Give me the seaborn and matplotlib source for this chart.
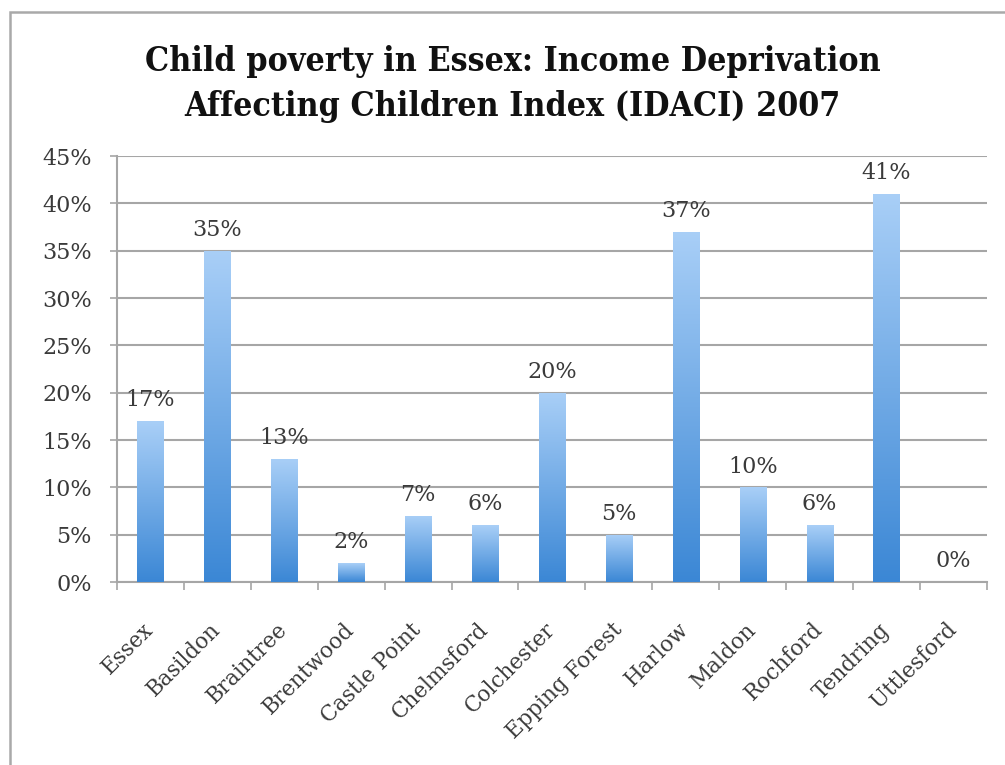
import numpy as np
import pandas as pd
import matplotlib
matplotlib.use("Agg")
import matplotlib.pyplot as plt
from matplotlib.colors import LinearSegmentedColormap
from matplotlib.patches import Rectangle
import seaborn as sns

# IDACI 2007 share of children in income-deprived households, by district
districts = ["Essex", "Basildon", "Braintree", "Brentwood", "Castle Point",
             "Chelmsford", "Colchester", "Epping Forest", "Harlow", "Maldon",
             "Rochford", "Tendring", "Uttlesford"]
idaci_pct = [17, 35, 13, 2, 7, 6, 20, 5, 37, 10, 6, 41, 0]
y_ticks = [0, 5, 10, 15, 20, 25, 30, 35, 40, 45]

title_lines = ["Child poverty in Essex: Income Deprivation",
               "Affecting Children Index (IDACI) 2007"]

GRID = "#a6a6a6"
TEXT = "#3a3a3a"

sns.set_theme(style="white")
plt.rcParams["font.family"] = ["DejaVu Serif", "DejaVu Sans"]

fig = plt.figure(figsize=(10.05, 7.65), dpi=100)
ax = fig.add_axes([0.1164, 0.2392, 0.8656, 0.5568])

df = pd.DataFrame({"district": districts, "pct": idaci_pct})
sns.barplot(data=df, x="district", y="pct", color="#6fa8e6", width=0.39,
            errorbar=None, ax=ax, zorder=3)

# vertical gradient fill inside each bar (dark at the base, light at the top)
cmap = LinearSegmentedColormap.from_list("bar_fill", ["#3b87d5", "#a9cff7"])
grad = np.linspace(0, 1, 256).reshape(-1, 1)
for patch in list(ax.patches):
    x0, w, h = patch.get_x(), patch.get_width(), patch.get_height()
    patch.set_facecolor("none")
    patch.set_edgecolor("none")
    if h <= 0:
        continue
    im = ax.imshow(grad, cmap=cmap, origin="lower", aspect="auto",
                   extent=[x0, x0 + w, 0, h], zorder=3,
                   interpolation="bilinear")
    im.set_clip_path(patch)

# value labels above bars
for i, v in enumerate(idaci_pct):
    ax.annotate(f"{v}%", xy=(i, v), xytext=(0, 7), textcoords="offset points",
                ha="center", va="bottom", fontsize=16, color=TEXT, zorder=4)

n = len(districts)
ax.set_xlim(-0.5, n - 0.5)
ax.set_ylim(0, 45)
ax.set_aspect("auto")

# y axis
ax.set_yticks(y_ticks)
ax.set_yticklabels([f"{t}%" for t in y_ticks])
ax.yaxis.grid(True, color=GRID, linewidth=1.5, zorder=0)
ax.xaxis.grid(False)
ax.set_axisbelow(True)
ax.tick_params(axis="y", which="major", left=True, length=5, width=1.2,
               color=GRID, pad=13, labelsize=16, labelcolor=TEXT)

# x axis: labels at category centres, tick marks at category boundaries
ax.set_xticks(np.arange(n))
ax.set_xticklabels(districts, rotation=45, ha="right", va="center",
                   rotation_mode="anchor")
ax.set_xticks(np.arange(n + 1) - 0.5, minor=True)
ax.tick_params(axis="x", which="major", bottom=True, length=0, pad=32,
               labelsize=15.5, labelcolor=TEXT)
ax.tick_params(axis="x", which="minor", bottom=True, length=6, width=1.2,
               color=GRID)
ax.set_xlabel("")
ax.set_ylabel("")

for side in ["top", "right"]:
    ax.spines[side].set_visible(False)
for side in ["left", "bottom"]:
    ax.spines[side].set_color(GRID)
    ax.spines[side].set_linewidth(1.5)

# chart title
for k, line in enumerate(title_lines):
    fig.text(0.51, 1 - (71 + 45 * k) / 765, line, ha="center", va="baseline",
             fontsize=24.3, fontweight="bold", fontstretch="condensed",
             color="#111111")

# chart-area frame
fig.add_artist(Rectangle((10 / 1005, -0.05), 1.2, 1.05 - 12 / 765,
                         transform=fig.transFigure, fill=False,
                         edgecolor="#a9a9a9", linewidth=1.8))

fig.savefig("out.png", dpi=100)
